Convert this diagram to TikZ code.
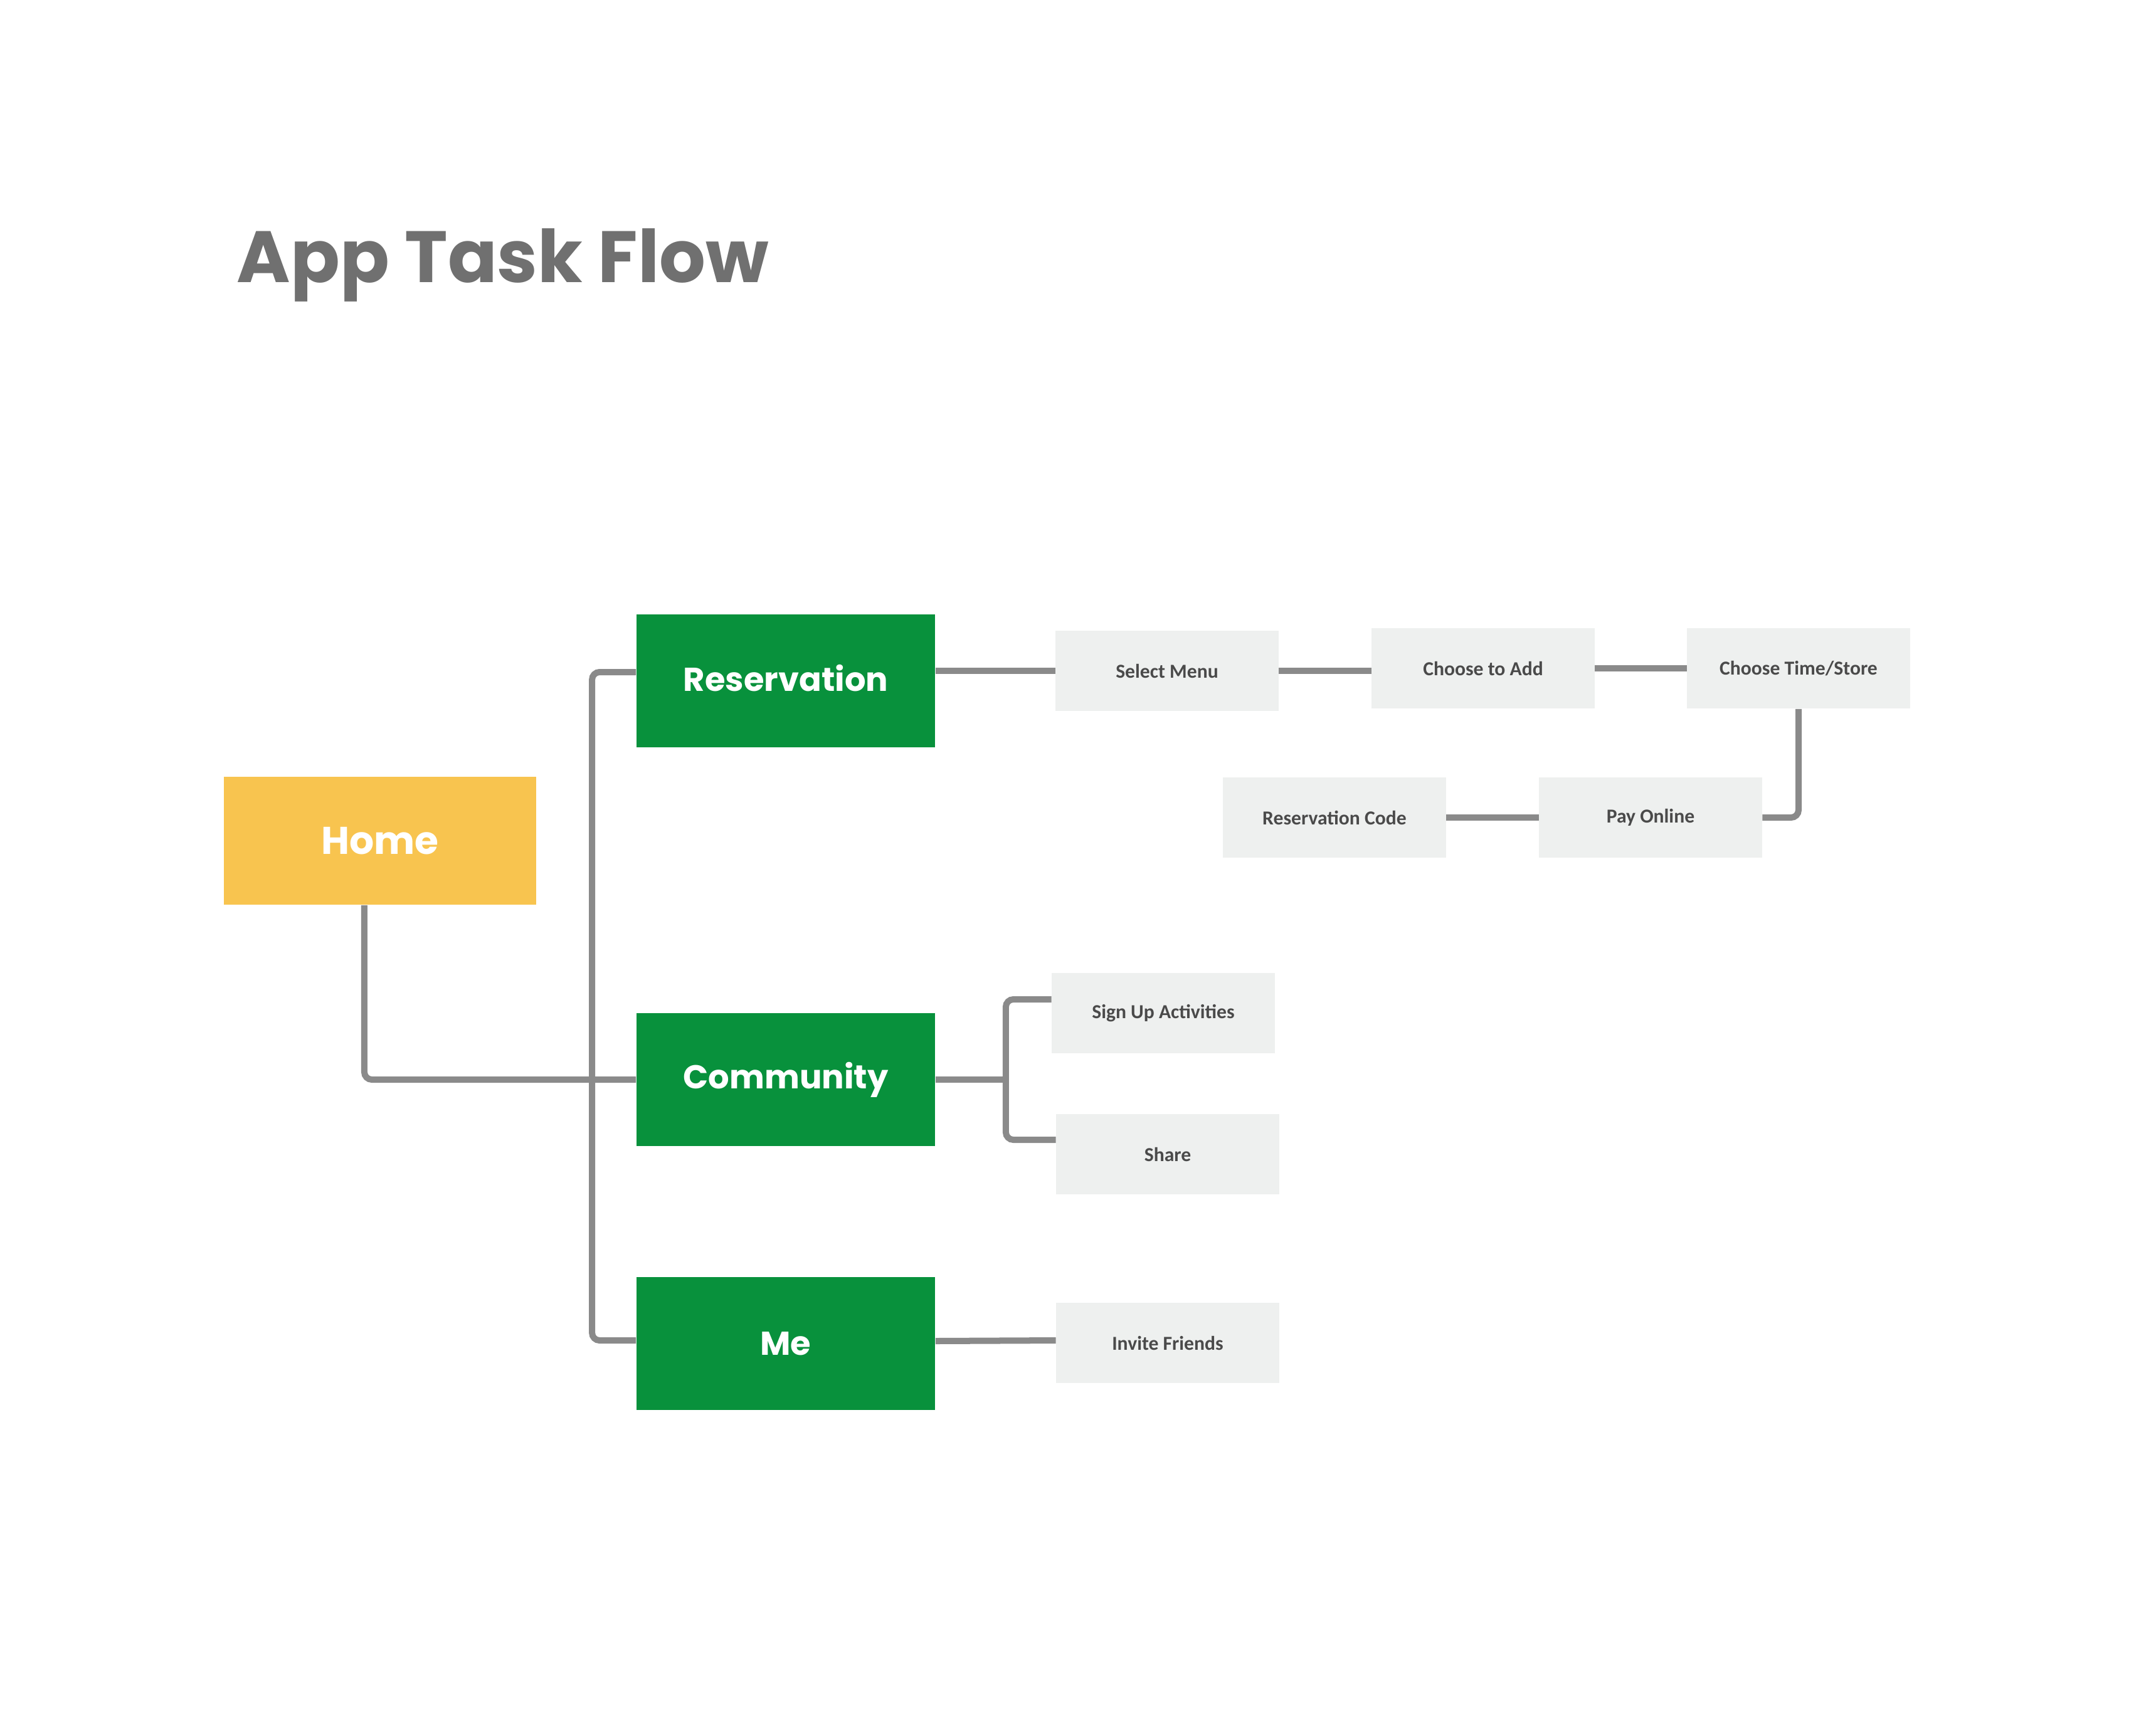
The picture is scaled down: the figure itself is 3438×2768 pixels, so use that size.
\documentclass[tikz,border=0pt]{standalone}
\usepackage{fontspec}
\usepackage{xcolor}
\usepackage{tikz}
\usetikzlibrary{positioning}
\newfontfamily\flowfont{Poppins}
\newfontfamily\stepfont{Carlito}
\definecolor{flowgreen}{HTML}{08913C}
\definecolor{flowyellow}{HTML}{F8C44F}
\definecolor{stepgray}{HTML}{EEF0EF}
\definecolor{steptext}{HTML}{4A4A4A}
\definecolor{linegray}{HTML}{8A8A8A}
\definecolor{titlegray}{HTML}{707070}

\tikzset{
  mainbox/.style={fill=flowgreen, text=white, inner sep=0pt,
    minimum width=4.76cm, minimum height=2.11cm,
    font=\flowfont\bfseries\fontsize{15}{17}\selectfont},
  stepbox/.style={fill=stepgray, text=steptext, inner sep=0pt,
    minimum width=3.55cm, minimum height=1.28cm,
    font=\stepfont\bfseries\fontsize{9}{11}\selectfont},
  link/.style={draw=linegray, line width=0.1cm, rounded corners=0.12cm}
}

\begin{document}
\begin{tikzpicture}[x=0.01cm, y=-0.01cm]
\useasboundingbox[fill=white] (0,0) rectangle (3438,2768);

\node[anchor=base west, inner sep=0pt, text=titlegray,
  font=\flowfont\bfseries\fontsize{33}{38}\selectfont] (title) at (377,450) {App Task Flow};

\node[fill=flowyellow, text=white, inner sep=0pt, minimum width=4.98cm, minimum height=2.04cm,
  font=\flowfont\bfseries\fontsize{17.5}{20}\selectfont] (home) at (606,1341) {Home};

\node[mainbox] (res) at (1253,1086) {\raisebox{0.1cm}{Reservation}};
\node[mainbox] (com) at (1253,1722) {Community};
\node[mainbox] (me) at (1253,2143) {\raisebox{-0.08cm}{Me}};

\node[stepbox] (sel) at (1861,1070) {Select Menu};
\node[stepbox] (add) at (2365,1066) {Choose to Add};
\node[stepbox] (time) at (2868,1066) {Choose Time/Store};
\node[stepbox] (pay) at (2632,1304) {Pay Online};
\node[stepbox] (code) at (2128,1304) {Reservation Code};

\node[stepbox] (sign) at (1855,1616) {Sign Up Activities};
\node[stepbox] (share) at (1862,1841) {Share};
\node[stepbox] (invite) at (1862,2142) {Invite Friends};

\draw[link] ([xshift=-0.25cm]home.south) |- (com.west);
\draw[link] ([yshift=0.14cm]res.west) -- ++(-0.70cm,0) |- ([yshift=0.05cm]me.west);

\draw[link] (sel.west) -- (sel.west -| res.east);
\draw[link] (sel.east) -- (sel.east -| add.west);
\draw[link] (add.east) -- (time.west);
\draw[link] (time.south) |- (pay.east);
\draw[link] (pay.west) -- (code.east);

\draw[link] (com.east) -- ++(1.12cm,0) coordinate (fork);
\draw[link] ([yshift=0.22cm]sign.west) -| (fork) |- ([yshift=0.23cm]share.west);
\draw[link] ([yshift=0.04cm]me.east) -- ([yshift=0.04cm]invite.west);
\end{tikzpicture}
\end{document}
